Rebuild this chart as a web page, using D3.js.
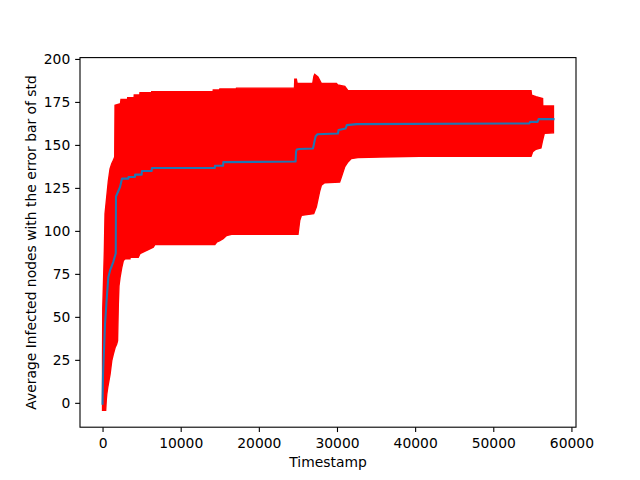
<!DOCTYPE html>
<html><head><meta charset="utf-8">
<script src="https://cdn.jsdelivr.net/npm/d3@7"></script>
<style>body{margin:0;background:#fff}svg{display:block}text{font-family:"DejaVu Sans",sans-serif;}</style>
</head><body>
<svg id="chart" width="640" height="480"></svg>
<script>
// Mean of infected nodes over time
const meanT = [0,64,320,540,740,960,1380,1690,1720,2240,2490,3300,3320,4150,4170,5010,5030,6290,6310,14370,14390,15430,15450,24700,24760,24850,25200,26930,27150,27270,27500,30120,30200,31110,31250,32500,54610,54700,55670,55800,57700];
const meanV = [-0.5,17,46,61,73,77,82,87,120,125.5,130.4,130.4,131.3,131.3,132.7,132.7,134.8,134.8,136.6,136.6,137.9,137.9,140,140.3,146,147.3,147.6,147.9,152.7,155,156.2,156.6,158.6,159.6,161.5,162.1,162.5,163.4,163.4,165,165];
// Upper edge of the std error bars (mean + std)
const upperT = [0,30,230,320,740,960,1175,1380,1560,1600,2300,2360,3200,3220,4040,4060,4770,4790,6270,6290,14150,14170,14990,15010,17120,17140,24560,24600,24800,24900,26900,27050,27150,27560,27990,29920,30100,31000,31400,54830,54900,55460,56310,56330,57700];
const upperV = [26,55,88,110,129,136,139,141,143,173,174,176.5,176.5,177.4,177.4,179,179,180.3,180.3,181,181,182,182,182.5,182.5,183,183,188.2,188.2,185.8,185.8,190,191,189.5,185.8,185.8,184.8,184,181.5,181.5,179,178,177,172.6,172.6];
// Lower edge of the std error bars (mean - std)
const lowerT = [0,400,480,540,660,960,1175,1380,1600,1800,1920,2020,2100,2240,2450,2660,2870,3510,3530,4570,4790,5650,6490,6710,14370,14590,15010,15430,15870,16510,25010,25230,25450,27020,27360,27780,28000,28420,30340,30560,30980,31400,31830,32680,35450,40560,54830,55040,55460,56100,56310,56530,57700];
const lowerV = [-4.4,-4.4,2,5,8.8,16.6,24.4,28.3,32,34,36,57.6,68,73,78.5,82.7,83.7,83.7,84.7,84.7,86.8,88.6,90.5,92.1,92.1,93.4,94.4,95.4,97.3,98,98,106,109,110,114,123,126.5,128,128.4,131.3,137.2,140.1,142.1,142.6,143,143.4,143.4,146,147.5,148.2,152.7,156.7,157];
const xTicks = [0,10000,20000,30000,40000,50000,60000];
const yTicks = [0,25,50,75,100,125,150,175,200];
const xLabel = "Timestamp";
const yLabel = "Average Infected nodes with the error bar of std";

const svg = d3.select("#chart");
const L = 80, R = 576, T = 57.6, B = 427.2;
const allT = meanT.concat(upperT, lowerT);
const allV = meanV.concat(upperV, lowerV);
const [tmin, tmax] = d3.extent(allT);
const [vmin, vmax] = d3.extent(allV);
const tpad = (tmax - tmin) * 0.05, vpad = (vmax - vmin) * 0.05;
const x = d3.scaleLinear().domain([tmin - tpad, tmax + tpad]).range([L, R]);
const y = d3.scaleLinear().domain([vmin - vpad, vmax + vpad]).range([B, T]);

const band = upperT.map((t, i) => [t, upperV[i]])
  .concat(lowerT.map((t, i) => [t, lowerV[i]]).reverse());
const line = d3.line().x(d => x(d[0])).y(d => y(d[1]));
svg.append("path").attr("d", line(band) + "Z")
  .attr("fill", "#ff0000").attr("stroke", "#ff0000").attr("stroke-width", 1.4)
  .attr("stroke-linejoin", "miter");
svg.append("path").attr("d", line(meanT.map((t, i) => [t, meanV[i]])))
  .attr("fill", "none").attr("stroke", "#1f77b4").attr("stroke-width", 2.08)
  .attr("stroke-linejoin", "round").attr("stroke-linecap", "square");

const fs = 13.89;
const xAxis = d3.axisBottom(x).tickValues(xTicks).tickFormat(d3.format("d"))
  .tickSizeInner(4.86).tickSizeOuter(0).tickPadding(4.86);
const gx = svg.append("g").attr("transform", `translate(0,${B})`).call(xAxis);
const yAxis = d3.axisLeft(y).tickValues(yTicks).tickFormat(d3.format("d"))
  .tickSizeInner(4.86).tickSizeOuter(0).tickPadding(4.86);
const gy = svg.append("g").attr("transform", `translate(${L},0)`).call(yAxis);
[gx, gy].forEach(g => {
  g.select(".domain").remove();
  g.selectAll(".tick line").attr("stroke", "#000").attr("stroke-width", 1.1);
  g.selectAll(".tick text").attr("fill", "#000").style("font-size", fs + "px")
   .style("font-family", "DejaVu Sans");
});
gx.selectAll(".tick text").attr("dy", "0.78em");

svg.append("rect").attr("x", L).attr("y", T).attr("width", R - L).attr("height", B - T)
  .attr("fill", "none").attr("stroke", "#000").attr("stroke-width", 1.1);

svg.append("text").attr("x", (L + R) / 2).attr("y", 466.5).attr("text-anchor", "middle")
  .style("font-size", fs + "px").text(xLabel);
svg.append("text").attr("transform", `translate(35.5,${(T + B) / 2}) rotate(-90)`)
  .attr("text-anchor", "middle").style("font-size", fs + "px").text(yLabel);
</script>
</body></html>
